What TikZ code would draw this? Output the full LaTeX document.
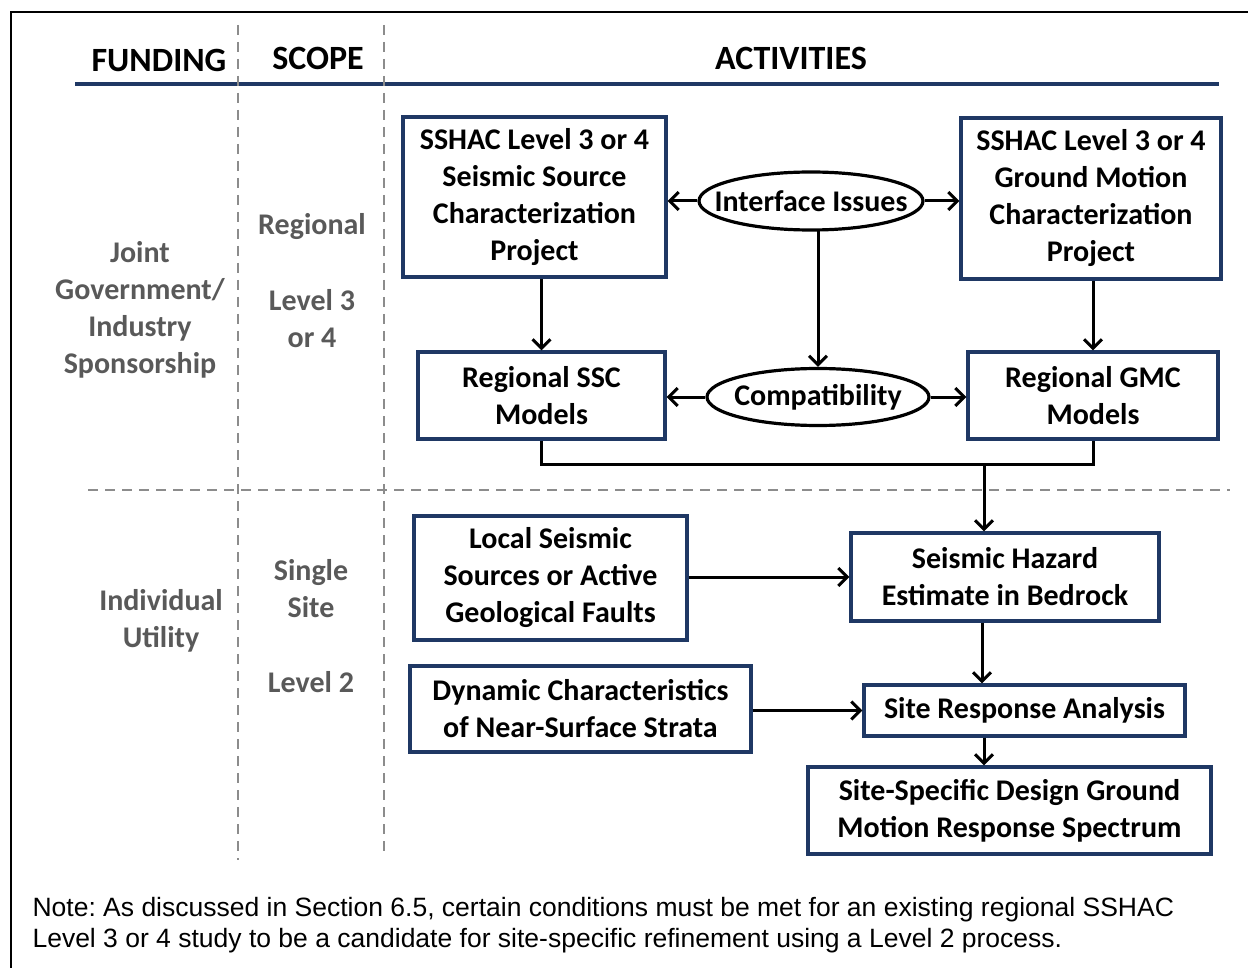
\documentclass[tikz,border=0pt]{standalone}
\usepackage{fontspec}
\setmainfont{Carlito}
\newfontfamily\notefont{Liberation Sans}
\usetikzlibrary{arrows.meta,shapes.geometric}
\definecolor{navy}{HTML}{1F3864}
\definecolor{dgrey}{HTML}{595959}
\definecolor{lgrey}{HTML}{8C8C8C}
\tikzset{
  box/.style={draw=navy, line width=3.2pt, inner sep=0pt, align=center, font=\fontsize{30}{37}\selectfont\bfseries},
  oval/.style={ellipse, draw=black, line width=3.2pt, inner sep=0pt},
  ovaltext/.style={font=\fontsize{30}{37}\selectfont\bfseries, inner sep=0pt},
  arr/.style={line width=3pt, -{Straight Barb[length=9pt,width=18pt,line width=3pt]}},
  link/.style={line width=3pt},
  sep/.style={draw=lgrey, line width=2.2pt, dash pattern=on 10pt off 7pt},
  side/.style={text=dgrey, align=center, font=\fontsize{30}{37}\selectfont\bfseries},
  head/.style={font=\fontsize{34}{38}\selectfont\bfseries}
}
\begin{document}
\frenchspacing
\begin{tikzpicture}[x=1pt,y=-1pt]
\useasboundingbox (0,0) rectangle (1248,968);
% frame
\draw[line width=2.2pt] (11,968) -- (11,12) -- (1248,12);
% headers
\node[head] (hf) at (159,60) {FUNDING};
\node[head] (hs) at (318,58) {SCOPE};
\node[head] (ha) at (791,58) {ACTIVITIES};
\draw[navy, line width=3.5pt] (75,84) -- (1219,84);
% separators
\draw[sep] (238,25) -- (238,860);
\draw[sep] (384,25) -- (384,855);
\draw[sep] (88,490) -- (1230,490);
% side labels
\node[side] (jg) at (140,310) {Joint\\Government/\\Industry\\Sponsorship};
\node[side] (rg) at (312,227) {Regional};
\node[side] (l34) at (312,319) {Level 3\\or 4};
\node[side] (iu) at (161,621) {Individual\\Utility};
\node[side] (ss) at (311,589) {Single\\Site};
\node[side] (l2) at (311,682) {Level 2};
% boxes
\node[box, minimum width=263pt, minimum height=160pt] (A) at (534.5,197) {SSHAC Level 3 or 4\\Seismic Source\\Characterization\\Project};
\node[box, minimum width=260pt, minimum height=161pt] (B) at (1091,198.5) {SSHAC Level 3 or 4\\Ground Motion\\Characterization\\Project};
\node[box, minimum width=247pt, minimum height=87pt] (C) at (541.5,395.5) {Regional SSC\\Models};
\node[box, minimum width=250pt, minimum height=87pt] (D) at (1093,395.5) {Regional GMC\\Models};
\node[box, minimum width=273pt, minimum height=124pt] (E) at (550.5,578) {Local Seismic\\Sources or Active\\Geological Faults};
\node[box, minimum width=308pt, minimum height=88pt] (F) at (1005,577) {Seismic Hazard\\Estimate in Bedrock};
\node[box, minimum width=341pt, minimum height=86pt] (G) at (580.5,709) {Dynamic Characteristics\\of Near-Surface Strata};
\node[box, minimum width=321pt, minimum height=51pt] (H) at (1024.5,710.5) {Site Response Analysis};
\node[box, minimum width=403pt, minimum height=87pt] (I) at (1009.5,810.5) {Site-Specific Design Ground\\Motion Response Spectrum};
% ovals
\node[oval, minimum width=224pt, minimum height=58pt, label={[ovaltext]center:Interface Issues}] (II) at (811,201) {};
\node[oval, minimum width=222pt, minimum height=57pt, label={[ovaltext]center:Compatibility}] (CP) at (818,397) {};
% connectors
\draw[arr] (II.west) -- (II.west -| A.east);
\draw[arr] (II.east) -- (II.east -| B.west);
\coordinate (iv) at (818,231);
\draw[arr] (iv) -- (iv |- CP.north);
\draw[arr] (CP.west) -- (CP.west -| C.east);
\draw[arr] (CP.east) -- (CP.east -| D.west);
\draw[arr] (A.south -| C.north) -- (C.north);
\draw[arr] (B.south -| D.north) -- (D.north);
\coordinate (m) at (984,464);
\draw[link] (C.south) |- (m) -| (D.south);
\draw[arr] (m) -- (m |- F.north);
\draw[arr] (E.east |- F.west) -- (F.west);
\draw[arr] (G.east |- H.west) -- (H.west);
\coordinate (fh) at (982,621);
\draw[arr] (F.south -| fh) -- (H.north -| fh);
\draw[arr] (H.south -| m) -- (I.north -| m);
% note
\node[anchor=west, align=left, font=\notefont\fontsize{26.5}{31}\selectfont] (note) at (29,925) {Note: As discussed in Section 6.5, certain conditions must be met for an existing regional SSHAC\\Level 3 or 4 study to be a candidate for site-specific refinement using a Level 2 process.};
\end{tikzpicture}
\end{document}
